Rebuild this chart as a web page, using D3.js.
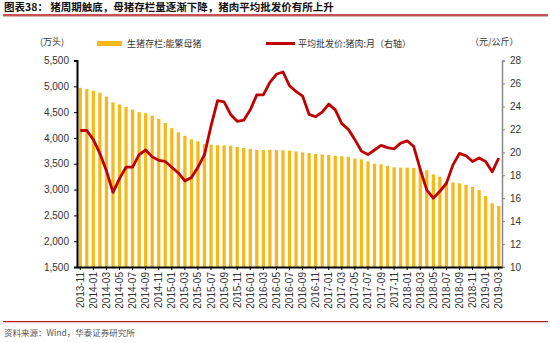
<!DOCTYPE html>
<html><head><meta charset="utf-8">
<script src="https://cdn.jsdelivr.net/npm/d3@7"></script>
<style>
body{margin:0;background:#fff;}
svg{display:block;font-family:"Liberation Sans",Arial,sans-serif;}
.cjk{font-family:"Noto Sans CJK SC","Noto Sans",sans-serif;}
</style></head>
<body><svg id="c" width="550" height="343"></svg>
<script>
const months = ["2013-11","2013-12",
"2014-01","2014-02","2014-03","2014-04","2014-05","2014-06","2014-07","2014-08","2014-09","2014-10","2014-11","2014-12",
"2015-01","2015-02","2015-03","2015-04","2015-05","2015-06","2015-07","2015-08","2015-09","2015-10","2015-11","2015-12",
"2016-01","2016-02","2016-03","2016-04","2016-05","2016-06","2016-07","2016-08","2016-09","2016-10","2016-11","2016-12",
"2017-01","2017-02","2017-03","2017-04","2017-05","2017-06","2017-07","2017-08","2017-09","2017-10","2017-11","2017-12",
"2018-01","2018-02","2018-03","2018-04","2018-05","2018-06","2018-07","2018-08","2018-09","2018-10","2018-11","2018-12",
"2019-01","2019-02","2019-03"];
const sows = [4970,4945,4915,4875,4800,4690,4650,4600,4550,4500,4480,4430,4370,4290,4190,4110,4040,3975,3935,3885,
3870,3858,3855,3850,3825,3805,3790,3770,3765,3770,3765,3760,3755,3740,3720,3705,3690,3680,3670,3655,
3645,3635,3600,3585,3545,3500,3490,3460,3430,3425,3425,3420,3415,3375,3295,3250,3150,3140,3120,3090,
3055,2990,2877,2735,2683];
const price = [21.9,21.9,21.1,19.9,18.4,16.5,17.7,18.7,18.7,19.8,20.2,19.6,19.3,19.2,18.7,18.2,17.5,17.8,18.7,19.8,
22.3,24.5,24.4,23.3,22.7,22.8,23.7,25.0,25.0,26.1,26.8,27.0,25.8,25.3,24.9,23.3,23.1,23.5,24.2,23.7,
22.5,22.0,21.1,20.1,19.8,20.2,20.6,20.4,20.3,20.8,21.0,20.5,18.5,16.7,16.0,16.6,17.3,18.9,19.9,19.7,
19.2,19.5,19.2,18.3,19.5];
const leftTicks = [1500,2000,2500,3000,3500,4000,4500,5000,5500];
const rightTicks = [10,12,14,16,18,20,22,24,26,28];
const title = "图表38：  猪周期触底，母猪存栏量逐渐下降，猪肉平均批发价有所上升";
const barName = "生猪存栏:能繁母猪";
const lineName = "平均批发价:猪肉:月（右轴）";
const leftUnit = "(万头)";
const rightUnit = "（元/公斤）";
const source = "资料来源：Wind，华泰证券研究所";

const svg = d3.select("#c");
const L = 77, R = 502, T = 60.5, B = 267;
const x = d3.scaleBand().domain(months).range([L, R]).paddingInner(0.5).paddingOuter(0.25);
const yL = d3.scaleLinear().domain([1500,5500]).range([B,T]);
const yR = d3.scaleLinear().domain([10,28]).range([B,T]);

// title
svg.append("text").attr("class","cjk").attr("x",4).attr("y",11).attr("font-size",10.5).attr("font-weight","bold")
  .attr("fill","#111").text(title);
svg.append("line").attr("x1",3).attr("x2",548).attr("y1",15).attr("y2",15).attr("stroke","#b01818").attr("stroke-width",1.5);
svg.append("line").attr("x1",3).attr("x2",548).attr("y1",16.5).attr("y2",16.5).attr("stroke","#e0b0b0").attr("stroke-width",1);

// units
svg.append("text").attr("class","cjk").attr("x",40).attr("y",45).attr("font-size",9).attr("fill","#333").text(leftUnit);
svg.append("text").attr("class","cjk").attr("x",470).attr("y",45).attr("font-size",9).attr("fill","#333").text(rightUnit);

// legend
svg.append("rect").attr("x",97).attr("y",41).attr("width",25).attr("height",5).attr("fill","#F5B91A");
svg.append("text").attr("class","cjk").attr("x",127).attr("y",46.5).attr("font-size",9).attr("fill","#333").text(barName);
svg.append("line").attr("x1",266).attr("x2",295).attr("y1",43.5).attr("y2",43.5).attr("stroke","#C00000").attr("stroke-width",3);
svg.append("text").attr("class","cjk").attr("x",298).attr("y",46.5).attr("font-size",9).attr("fill","#333").text(lineName);

// bars
svg.append("g").selectAll("rect").data(sows).join("rect")
  .attr("x",(d,i)=>x(months[i]))
  .attr("width",x.bandwidth())
  .attr("y",d=>yL(d))
  .attr("height",d=>B-yL(d))
  .attr("fill","#F5B91A");

// line
const line = d3.line().x((d,i)=>x(months[i])+x.bandwidth()/2).y(d=>yR(d));
svg.append("path").datum(price).attr("d",line).attr("fill","none")
  .attr("stroke","#C00000").attr("stroke-width",2.8).attr("stroke-linejoin","round");

// left axis
const gL = svg.append("g").attr("transform",`translate(${L},0)`)
  .call(d3.axisLeft(yL).tickValues(leftTicks).tickFormat(d3.format(",")).tickSize(3).tickPadding(5));
gL.select(".domain").attr("stroke","#000").attr("stroke-width",2);
gL.selectAll(".tick line").attr("stroke","#000");
gL.selectAll("text").attr("font-size",10).attr("fill","#333").attr("font-family","Liberation Sans, Arial");

// right axis
const gR = svg.append("g").attr("transform",`translate(${R},0)`)
  .call(d3.axisRight(yR).tickValues(rightTicks).tickSize(3).tickPadding(5));
gR.select(".domain").attr("stroke","#888").attr("stroke-width",1.5);
gR.selectAll(".tick line").attr("stroke","#888");
gR.selectAll("text").attr("font-size",10).attr("fill","#333").attr("font-family","Liberation Sans, Arial");

// bottom axis
const gB = svg.append("g").attr("transform",`translate(0,${B})`)
  .call(d3.axisBottom(x).tickValues(months.filter((m,i)=>i%2===0)).tickSize(3).tickSizeOuter(0));
gB.select(".domain").attr("stroke","#000").attr("stroke-width",2);
gB.selectAll(".tick line").attr("stroke","#000");
gB.selectAll("text").attr("font-size",10).attr("fill","#333").attr("font-family","Liberation Sans, Arial")
  .attr("transform","rotate(-90)").attr("text-anchor","end").attr("x",-5).attr("y",0).attr("dy","0.35em");

// footer
svg.append("line").attr("x1",3).attr("x2",548).attr("y1",321.5).attr("y2",321.5).attr("stroke","#b01818").attr("stroke-width",1.2);
svg.append("line").attr("x1",3).attr("x2",548).attr("y1",322.8).attr("y2",322.8).attr("stroke","#e0b0b0").attr("stroke-width",0.8);
svg.append("text").attr("class","cjk").attr("x",4).attr("y",336).attr("font-size",8.5).attr("fill","#555").text(source);
</script></body></html>
